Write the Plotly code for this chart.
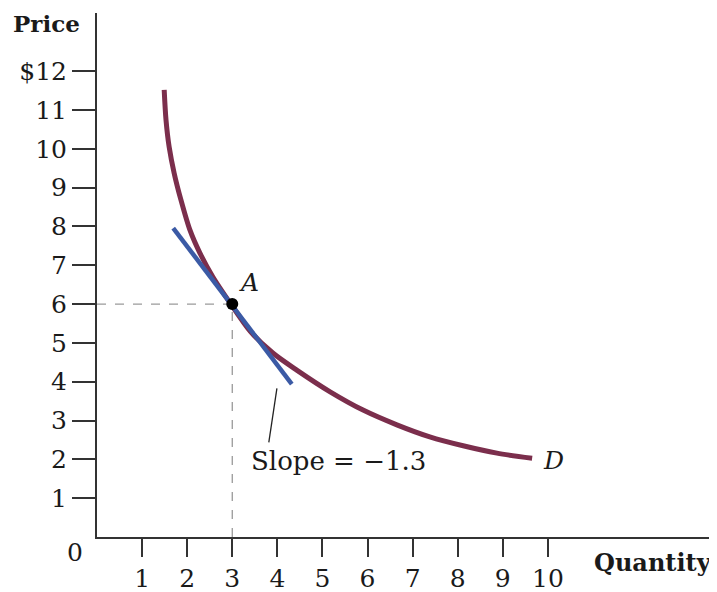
import plotly.graph_objects as go

# Demand curve D
demand_q = [1.49, 1.53, 1.60, 1.71, 1.86, 2.06, 2.28, 2.57, 2.97, 3.40, 3.90, 4.43, 5.17, 5.90, 6.65, 7.38, 8.12, 8.87, 9.65]
demand_p = [11.52, 10.75, 10.05, 9.38, 8.69, 7.91, 7.32, 6.70, 6.00, 5.30, 4.74, 4.30, 3.74, 3.27, 2.89, 2.58, 2.35, 2.16, 2.03]

# Tangent line at A
tangent_q = [1.69, 4.32]
tangent_p = [7.96, 3.94]

# Point A
point_a = (3, 6)

# Leader line for slope label
leader_q = [3.99, 3.81]
leader_p = [3.83, 2.44]

x_ticks = [1, 2, 3, 4, 5, 6, 7, 8, 9, 10]
x_labels = [str(v) for v in x_ticks]
y_ticks = [1, 2, 3, 4, 5, 6, 7, 8, 9, 10, 11, 12]
y_labels = [str(v) for v in y_ticks[:-1]] + ["$12"]

maroon = "#7b2e4c"
blue = "#3b5aa5"
font_family = "DejaVu Serif"
txt = "#1a1a1a"

fig = go.Figure()

# dashed guides
fig.add_trace(go.Scatter(x=[0, point_a[0]], y=[point_a[1], point_a[1]], mode="lines",
                         line=dict(color="#9a9a9a", width=1.3, dash="dash"), hoverinfo="skip"))
fig.add_trace(go.Scatter(x=[point_a[0], point_a[0]], y=[0, point_a[1]], mode="lines",
                         line=dict(color="#9a9a9a", width=1.3, dash="dash"), hoverinfo="skip"))

fig.add_trace(go.Scatter(x=demand_q, y=demand_p, mode="lines",
                         line=dict(color=maroon, width=5, shape="spline", smoothing=0.8),
                         hoverinfo="skip"))
fig.add_trace(go.Scatter(x=tangent_q, y=tangent_p, mode="lines", line=dict(color=blue, width=4.5),
                         hoverinfo="skip"))
fig.add_trace(go.Scatter(x=leader_q, y=leader_p, mode="lines", line=dict(color="#222", width=1.3),
                         hoverinfo="skip"))
fig.add_trace(go.Scatter(x=[point_a[0]], y=[point_a[1]], mode="markers",
                         marker=dict(color="black", size=12), hoverinfo="skip"))

tick_font = dict(size=25, family=font_family, color=txt)

# The page body has an 8px margin, so the figure is made 8px smaller and offset accordingly.
fig.update_layout(
    width=709, height=584,
    margin=dict(l=89, r=0, t=5, b=55),
    plot_bgcolor="white", paper_bgcolor="white",
    showlegend=False,
    font=dict(family=font_family, color=txt, size=24),
    xaxis=dict(range=[0, 13.75], tickvals=x_ticks, ticktext=x_labels, showgrid=False, zeroline=False,
               showline=True, linecolor="#333", linewidth=2, ticks="outside", ticklen=18, tickwidth=1.5,
               tickcolor="#333", tickfont=tick_font, automargin=False),
    yaxis=dict(range=[0, 13.5], tickvals=y_ticks, ticktext=y_labels, showgrid=False, zeroline=False,
               showline=True, linecolor="#333", linewidth=2, ticks="outside", ticklen=23, tickwidth=1.5,
               tickcolor="#333", tickfont=tick_font, automargin=False),
    annotations=[
        dict(text="<b>Price</b>", xref="paper", yref="paper", x=-86 / 620, y=1, xanchor="left",
             yanchor="top", yshift=5, showarrow=False, font=dict(size=23, family=font_family, color=txt)),
        dict(text="<b>Quantity</b>", xref="paper", yref="paper", x=1, y=0, xanchor="right", yanchor="middle",
             yshift=-25, xshift=-3, showarrow=False, font=dict(size=24, family=font_family, color=txt)),
        dict(text="0", x=0, y=0, xref="x", yref="y", xanchor="right", yanchor="top", xshift=-12, yshift=1,
             showarrow=False, font=dict(size=25, family=font_family, color=txt)),
        dict(text="Slope = −1.3", x=3.36, y=1.96, xanchor="left", yanchor="middle", showarrow=False,
             font=dict(size=26, family=font_family, color=txt)),
        dict(text="<i>D</i>", x=9.85, y=1.96, xanchor="left", yanchor="middle", showarrow=False,
             font=dict(size=25, family=font_family, color=txt)),
        dict(text="<i>A</i>", x=3.37, y=6.55, xanchor="center", yanchor="middle", showarrow=False,
             font=dict(size=25, family=font_family, color=txt)),
    ],
)

fig.write_html("out.html")
